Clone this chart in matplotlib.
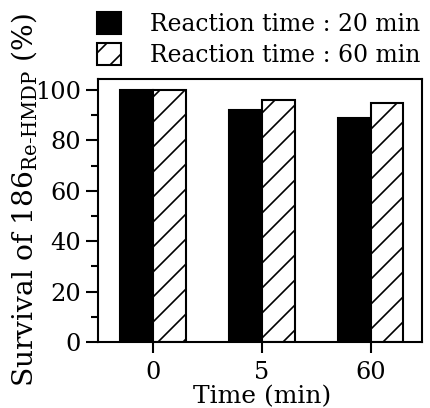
import numpy as np
import matplotlib
matplotlib.use("Agg")
import matplotlib.pyplot as plt
from matplotlib.patches import Patch

plt.rcParams['font.family'] = ['DejaVu Serif']
plt.rcParams['mathtext.fontset'] = 'dejavuserif'
plt.rcParams['hatch.linewidth'] = 0.8

# survival (%) after each incubation time
times = ['0', '5', '60']
surv_20min = [100, 92, 89]
surv_60min = [100, 96, 95]
series_labels = ['Reaction time : 20 min', 'Reaction time : 60 min']

W, H, DPI = 430, 408, 150
fig = plt.figure(figsize=(W / DPI, H / DPI), dpi=DPI)
ax = fig.add_axes([98 / W, 1 - 342 / H, (422 - 98) / W, (342 - 79) / H])

x = np.arange(len(times))
bw = 0.3
ax.bar(x - bw / 2, surv_20min, bw, color='black', edgecolor='black', linewidth=1.0)
ax.bar(x + bw / 2, surv_60min, bw, color='white', edgecolor='black',
       linewidth=1.0, hatch='//')

ax.set_xlim(-0.505, 2.47)
ax.set_ylim(0, 104.4)
ax.set_xticks(x)
ax.set_xticklabels(times)
ax.set_yticks(np.arange(0, 101, 20))
ax.set_yticks(np.arange(10, 100, 20), minor=True)

for s in ax.spines.values():
    s.set_linewidth(1.0)
ax.tick_params(axis='y', which='major', direction='out', length=5.8, width=1.0,
               labelsize=11.5, pad=2.5)
ax.tick_params(axis='y', which='minor', direction='out', length=3.4, width=1.0)
ax.tick_params(axis='x', which='major', direction='out', length=5.3, width=1.0,
               labelsize=11.5, pad=4)

fig.text(262 / W, 1 - 403 / H, 'Time (min)', ha='center', va='baseline', fontsize=12)
fig.text(24 / W, 1 - 200 / H,
         r'Survival of 186$_{\mathrm{Re\text{-}HMDP}}$ (%)',
         rotation=90, ha='center', va='center', fontsize=13.5)

handles = [Patch(facecolor='black', edgecolor='black', linewidth=1.0),
           Patch(facecolor='white', edgecolor='black', linewidth=1.0, hatch='//')]
fig.legend(handles, series_labels, loc='upper left',
           bbox_to_anchor=(97 / W, 1 - 12 / H), frameon=False, fontsize=11.3,
           handlelength=1.0, handleheight=1.05, handletextpad=1.25,
           labelspacing=0.3, borderpad=0, borderaxespad=0)

fig.savefig('out.png', dpi=DPI)
